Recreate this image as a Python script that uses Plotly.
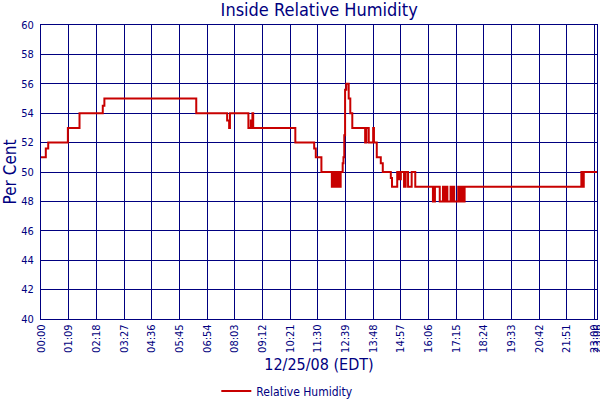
import plotly.graph_objects as go

DATE = "2008-12-25"

# Change points of the stepped humidity record (time of day, %RH)
times = [
    "00:00", "00:12", "00:18", "01:07", "01:36", "02:34", "02:38", "06:27",
    "07:44", "07:49", "07:51", "08:37", "08:43", "08:46", "08:47", "08:49",
    "10:34", "11:21", "11:25", "11:39",
    "12:05", "12:07", "12:08", "12:10", "12:11", "12:13", "12:17", "12:19",
    "12:20", "12:22", "12:23", "12:25", "12:26", "12:27",
    "12:32", "12:34", "12:36", "12:38", "12:41", "12:47", "12:51", "12:56",
    "13:28", "13:29", "13:30", "13:31", "13:37", "13:48", "13:50", "13:57",
    "14:07", "14:12", "14:32", "14:35", "14:48", "14:53", "14:57", "15:05",
    "15:09", "15:15", "15:24", "15:33",
    "16:17", "16:18", "16:19", "16:20", "16:21", "16:22", "16:34",
    "16:42", "16:43", "16:44", "16:45", "16:46", "16:47", "16:48", "16:49",
    "16:50", "16:51", "16:52", "16:53",
    "17:01", "17:02", "17:03", "17:04", "17:05", "17:06", "17:07", "17:08",
    "17:09", "17:10", "17:11",
    "17:20", "17:21", "17:22", "17:23", "17:24", "17:25", "17:26", "17:27",
    "17:28", "17:29", "17:30", "17:31", "17:32", "17:33", "17:34", "17:35",
    "17:36",
    "22:27", "22:31", "22:33", "23:06",
]
humidity = [
    51, 51.6, 52, 53, 54, 54.5, 55, 54,
    53.5, 53, 54, 53, 53.5, 53, 54, 53,
    52, 51.6, 51, 50,
    49, 50, 49, 50, 49, 50, 49, 50,
    49, 50, 49, 50, 49, 50,
    50.6, 51, 52.5, 55.6, 56, 55, 54, 53,
    52, 53, 52, 53, 52, 53, 52, 51,
    50.6, 50, 49.6, 49, 50, 49.5, 50, 49,
    50, 49, 50, 49,
    48, 49, 48, 49, 48, 49, 48,
    49, 48, 49, 48, 49, 48, 49, 48,
    49, 48, 49, 48,
    49, 48, 49, 48, 49, 48, 49, 48,
    49, 48, 48,
    49, 48, 49, 48, 49, 48, 49, 48,
    49, 48, 49, 48, 49, 48, 49, 48,
    49,
    50, 49, 50, 50,
]

tick_labels = [
    "00:00", "01:09", "02:18", "03:27", "04:36", "05:45", "06:54", "08:03",
    "09:12", "10:21", "11:30", "12:39", "13:48", "14:57", "16:06", "17:15",
    "18:24", "19:33", "20:42", "21:51", "23:00", "23:06",
]
y_ticks = [40, 42, 44, 46, 48, 50, 52, 54, 56, 58, 60]

NAVY = "#000080"
RED = "#C80000"
FONT = "DejaVu Sans Condensed"

x_vals = [f"{DATE} {t}" for t in times]
tick_vals = [f"{DATE} {t}" for t in tick_labels]

fig = go.Figure()
fig.add_trace(go.Scatter(
    x=x_vals, y=humidity, mode="lines", name="Relative Humidity",
    line=dict(color=RED, width=2, shape="hv"),
))

fig.update_layout(
    width=600, height=400,
    paper_bgcolor="white", plot_bgcolor="white",
    margin=dict(l=41, r=3, t=25, b=81, autoexpand=False),
    font=dict(family=FONT, color=NAVY, size=11),
    title=dict(text="Inside Relative Humidity", x=0.532, xanchor="center",
               xref="container", yref="container",
               y=0.975, yanchor="middle", font=dict(size=18, color=NAVY, family=FONT)),
    showlegend=True,
    legend=dict(orientation="h", x=0.443, xanchor="center", y=-0.245, yanchor="middle",
                font=dict(size=12, color=NAVY, family=FONT), itemwidth=30,
                bgcolor="rgba(0,0,0,0)"),
    xaxis=dict(
        type="date", range=[tick_vals[0], tick_vals[-1]],
        tickmode="array", tickvals=tick_vals, ticktext=tick_labels,
        tickangle=-90, tickfont=dict(size=11, color=NAVY),
        showgrid=True, gridcolor=NAVY, gridwidth=1,
        showline=True, linecolor=NAVY, linewidth=1, mirror=True,
        zeroline=False, ticks="", automargin=False, ticklabeloverflow="allow",
        title=dict(text="12/25/08 (EDT)", font=dict(size=16, color=NAVY), standoff=6),
    ),
    yaxis=dict(
        range=[40, 60], tickmode="array", tickvals=y_ticks,
        tickfont=dict(size=11, color=NAVY),
        showgrid=True, gridcolor=NAVY, gridwidth=1,
        showline=True, linecolor=NAVY, linewidth=1, mirror=True,
        zeroline=False, ticks="", ticklabelstandoff=4, automargin=False,
        ticklabeloverflow="allow",
        title=dict(text="Per Cent", font=dict(size=17, color=NAVY), standoff=4),
    ),
)

fig.write_html("out.html", config={"displayModeBar": False},
               post_script="document.body.style.margin='0';")
